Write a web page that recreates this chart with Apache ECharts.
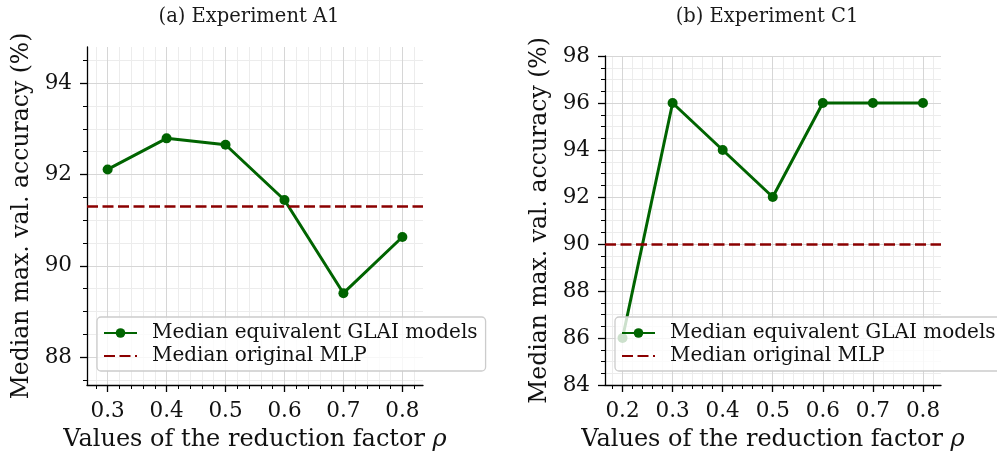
<!DOCTYPE html>
<html>
<head>
<meta charset="utf-8">
<script src="https://cdn.jsdelivr.net/npm/echarts@6/dist/echarts.min.js"></script>
<style>html,body{margin:0;padding:0;background:#fff}#c{width:997px;height:460px}</style>
</head>
<body>
<div id="c"></div>
<script>
// ---- data ----
const xA = [0.3, 0.4, 0.5, 0.6, 0.7, 0.8];
const glaiA = [92.11, 92.79, 92.65, 91.44, 89.40, 90.63];
const mlpA = 91.3;
const xC = [0.2, 0.3, 0.4, 0.5, 0.6, 0.7, 0.8];
const glaiC = [86, 96, 94, 92, 96, 96, 96];
const mlpC = 90;
const xTicksA = [0.3, 0.4, 0.5, 0.6, 0.7, 0.8];
const yTicksA = [88, 90, 92, 94];
const xTicksC = [0.2, 0.3, 0.4, 0.5, 0.6, 0.7, 0.8];
const yTicksC = [84, 86, 88, 90, 92, 94, 96, 98];
const titles = ['(a) Experiment A1', '(b) Experiment C1'];
const seriesNames = ['Median equivalent GLAI models', 'Median original MLP'];
const xName = 'Values of the reduction factor {i|\u03C1}';
const yName = 'Median max. val. accuracy (%)';

const FONT = 'DejaVu Serif';
const GREEN = '#006400', RED = '#8b0000';

function steps(lo, hi, step) {
  const out = [];
  const s = Math.ceil(lo / step - 1e-9);
  for (let k = s; k * step <= hi + 1e-9; k++) out.push(+(k * step).toFixed(6));
  return out;
}

const panels = [
  {grid: {left: 87, top: 47, width: 336, height: 338}, xr: [0.265, 0.835], yr: [87.39, 94.79],
   xt: xTicksA, yt: yTicksA, x: xA, y: glaiA, mlp: mlpA, title: titles[0], tx: 244},
  {grid: {left: 605, top: 56, width: 336, height: 329}, xr: [0.165, 0.836], yr: [84, 98],
   xt: xTicksC, yt: yTicksC, x: xC, y: glaiC, mlp: mlpC, title: titles[1], tx: 762}
];

const grid = [], xAxis = [], yAxis = [], series = [], title = [], legend = [];
panels.forEach((p, i) => {
  grid.push(p.grid);
  title.push({text: p.title, left: p.tx, top: 2, textAlign: 'center',
    textStyle: {fontFamily: FONT, fontSize: 19.5, fontWeight: 'normal', color: '#1a1a1a'}});
  const minorX = steps(p.xr[0], p.xr[1], 0.02);
  const minorY = steps(p.yr[0], p.yr[1], 0.5);
  xAxis.push({type: 'value', gridIndex: i, min: p.xr[0], max: p.xr[1], position: 'bottom', z: 1,
    axisLine: {show: false}, axisLabel: {show: false},
    axisTick: {show: true, customValues: minorX, length: 4, lineStyle: {color: '#000', width: 1}},
    splitLine: {show: true, lineStyle: {color: '#ececec', width: 1}}});
  xAxis.push({type: 'value', gridIndex: i, min: p.xr[0], max: p.xr[1], position: 'bottom', z: 2,
    name: xName, nameLocation: 'middle', nameGap: 43,
    nameTextStyle: {fontFamily: FONT, fontSize: 24, color: '#111',
      rich: {i: {fontFamily: FONT, fontSize: 24, fontStyle: 'italic', color: '#111'}}},
    axisLine: {show: true, onZero: false, lineStyle: {color: '#000', width: 1.3}},
    axisTick: {show: true, customValues: p.xt, length: 7, lineStyle: {color: '#000', width: 1.3}},
    axisLabel: {show: true, customValues: p.xt, margin: 15, formatter: v => v.toFixed(1),
      fontFamily: FONT, fontSize: 21.5, color: '#111'},
    splitLine: {show: true, lineStyle: {color: '#d6d6d6', width: 1}}});
  yAxis.push({type: 'value', gridIndex: i, min: p.yr[0], max: p.yr[1], position: 'left', z: 1,
    axisLine: {show: false}, axisLabel: {show: false},
    axisTick: {show: true, customValues: minorY, length: 4, lineStyle: {color: '#000', width: 1}},
    splitLine: {show: true, lineStyle: {color: '#ececec', width: 1}}});
  yAxis.push({type: 'value', gridIndex: i, min: p.yr[0], max: p.yr[1], position: 'left', z: 2,
    name: yName, nameLocation: 'middle', nameGap: 53, nameRotate: 90,
    nameTextStyle: {fontFamily: FONT, fontSize: 23.5, color: '#111'},
    axisLine: {show: true, onZero: false, lineStyle: {color: '#000', width: 1.3}},
    axisTick: {show: true, customValues: p.yt, length: 7, lineStyle: {color: '#000', width: 1.3}},
    axisLabel: {show: true, customValues: p.yt, margin: 15, formatter: v => String(Math.round(v)),
      fontFamily: FONT, fontSize: 21.5, color: '#111'},
    splitLine: {show: true, lineStyle: {color: '#d6d6d6', width: 1}}});
  const xi = i * 2 + 1, yi = i * 2 + 1;
  series.push({type: 'line', name: seriesNames[0], xAxisIndex: xi, yAxisIndex: yi, z: 3,
    data: p.x.map((v, k) => [v, p.y[k]]),
    symbol: 'circle', symbolSize: 10, color: GREEN,
    lineStyle: {color: GREEN, width: 3}, itemStyle: {color: GREEN}});
  series.push({type: 'line', name: seriesNames[1], xAxisIndex: xi, yAxisIndex: yi, z: 3,
    data: [], symbol: 'none', color: RED,
    lineStyle: {color: RED, width: 2.7, type: [11, 4.5]},
    markLine: {silent: true, symbol: 'none', label: {show: false},
      lineStyle: {color: RED, width: 2.7, type: [11, 4.5]}, data: [{yAxis: p.mlp}]}});
  legend.push({orient: 'vertical', left: i === 0 ? 97 : 615, top: 317,
    data: [{name: seriesNames[0]}, {name: seriesNames[1], itemStyle: {opacity: 0}}], z: 10,
    backgroundColor: 'rgba(255,255,255,0.8)', borderColor: '#cccccc', borderWidth: 1.3, borderRadius: 4,
    padding: [6, 8, 5, 6], itemGap: 3, itemWidth: 33, itemHeight: 12,
    textStyle: {fontFamily: FONT, fontSize: 20, color: '#111', padding: [0, 0, 0, 10]}});
});

const chart = echarts.init(document.getElementById('c'), null, {renderer: 'canvas'});
chart.setOption({animation: false, backgroundColor: '#fff', title, grid, xAxis, yAxis, series, legend});
</script>
</body>
</html>
